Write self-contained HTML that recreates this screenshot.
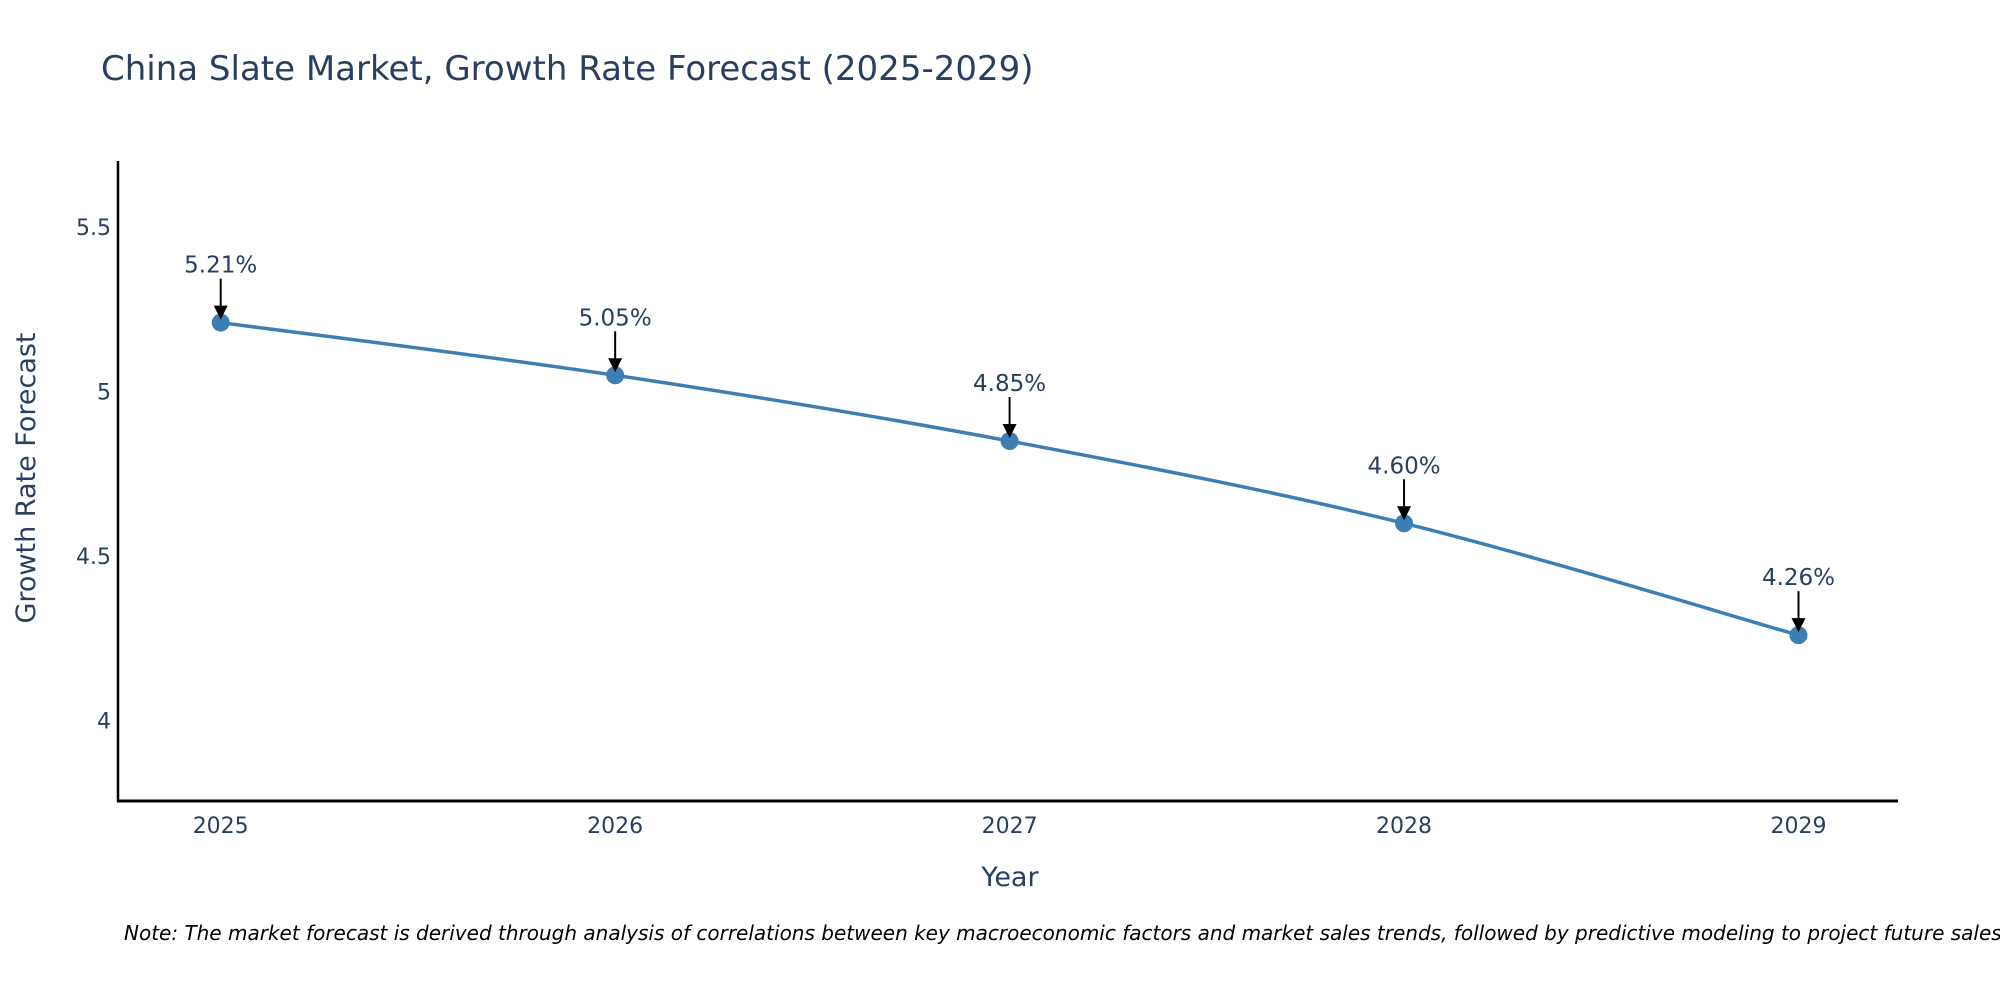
<!DOCTYPE html>
<html><head><meta charset="utf-8"><style>
html,body{margin:0;padding:0;background:#fff;}
svg{display:block;font-family:"DejaVu Sans","Liberation Sans",sans-serif;}
</style></head><body>
<svg id="chart" width="2000" height="1000" viewBox="0 0 2000 1000" xmlns="http://www.w3.org/2000/svg">
<rect width="2000" height="1000" fill="#fff"/>
<text x="101" y="80" font-size="34" fill="#2a3f5f">China Slate Market, Growth Rate Forecast (2025-2029)</text>
<g id="plot"></g>
<text x="1010" y="886" font-size="27" fill="#2a3f5f" text-anchor="middle">Year</text>
<text transform="translate(35,478) rotate(-90)" font-size="27" fill="#2a3f5f" text-anchor="middle">Growth Rate Forecast</text>
<text x="124" y="940" font-size="20" font-style="italic" fill="#000">Note: The market forecast is derived through analysis of correlations between key macroeconomic factors and market sales trends, followed by predictive modeling to project future sales</text>
</svg>
<script>
const years = [2025, 2026, 2027, 2028, 2029];
const growth = [5.21, 5.05, 4.85, 4.60, 4.26];
const labels = ["5.21%", "5.05%", "4.85%", "4.60%", "4.26%"];
const yTicks = [4, 4.5, 5, 5.5];
const yTickLabels = ["4", "4.5", "5", "5.5"];

(function(){
const NS = "http://www.w3.org/2000/svg";
const g = document.getElementById('plot');
const pLeft = 118, pRight = 1898, pTop = 161, pBottom = 801;
function xs(v){ return 220.7 + (v - 2025) * (1798.5 - 220.7) / 4; }
function ys(v){ return 720.7 - (v - 4) * 329; }
function el(tag, attrs){ const e = document.createElementNS(NS, tag); for (const k in attrs) e.setAttribute(k, attrs[k]); g.appendChild(e); return e; }

yTicks.forEach((t, i) => {
  const e = el('text', {x: 111, y: ys(t) + 8, 'font-size': 22, fill: '#2a3f5f', 'text-anchor': 'end'});
  e.textContent = yTickLabels[i];
  
  
});
years.forEach(y => {
  const e = el('text', {x: xs(y), y: 833, 'font-size': 22, fill: '#2a3f5f', 'text-anchor': 'middle'});
  e.textContent = String(y);
  
  
});
const ya = el('line', {x1: pLeft, y1: pTop, x2: pLeft, y2: pBottom + 1, stroke: '#000', 'stroke-width': 2.5});


const xa = el('line', {x1: pLeft - 1, y1: pBottom, x2: pRight, y2: pBottom, stroke: '#000', 'stroke-width': 3});



const pts = years.map((y, i) => [xs(y), ys(growth[i])]);
let d = 'M' + pts[0][0] + ',' + pts[0][1];
for (let i = 0; i < pts.length - 1; i++) {
  const p0 = pts[Math.max(0, i - 1)], p1 = pts[i], p2 = pts[i + 1], p3 = pts[Math.min(pts.length - 1, i + 2)];
  const t = 1 / 6;
  const c1 = [p1[0] + (p2[0] - p0[0]) * t, p1[1] + (p2[1] - p0[1]) * t];
  const c2 = [p2[0] - (p3[0] - p1[0]) * t, p2[1] - (p3[1] - p1[1]) * t];
  d += ' C' + c1.join(',') + ' ' + c2.join(',') + ' ' + p2.join(',');
}
const line = el('path', {d: d, fill: 'none', stroke: '#3d7fb3', 'stroke-width': 3.5});



pts.forEach((p, i) => {
  const c = el('circle', {cx: p[0], cy: p[1], r: 9, fill: '#3d7fb3'});
  
  
  const a = el('line', {x1: p[0], y1: p[1] - 44, x2: p[0], y2: p[1] - 16, stroke: '#000', 'stroke-width': 2});
  
  
  const h = el('polygon', {points: (p[0]-7)+','+(p[1]-17)+' '+(p[0]+7)+','+(p[1]-17)+' '+p[0]+','+(p[1]-3), fill: '#000'});
  
  
  const tx = el('text', {x: p[0], y: p[1] - 50, 'font-size': 23, fill: '#2a3f5f', 'text-anchor': 'middle'});
  tx.textContent = labels[i];
  
  
});
})();
</script>
</body></html>
